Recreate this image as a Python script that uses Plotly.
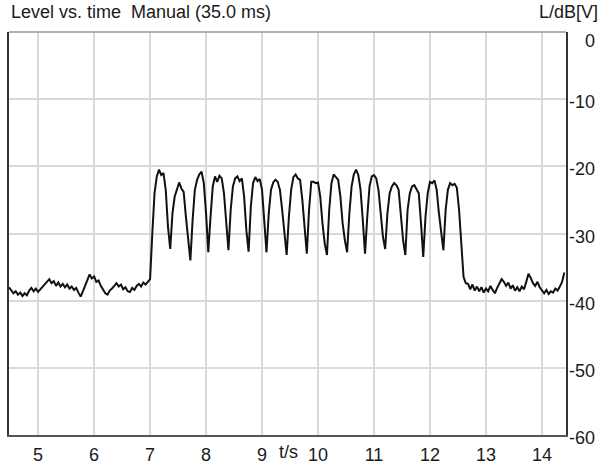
import plotly.graph_objects as go

# ---- data (level in dB[V], sampled every 0.04 s) ----
dt = 0.04
pre_start = 4.48
pre_level = [
    -38.0, -38.4, -38.9, -38.6, -39.1, -38.8, -39.3, -38.9, -39.2, -38.5,
    -38.1, -38.6, -38.2, -38.7, -38.3, -38.0, -37.6, -37.2, -36.8, -37.4,
    -37.1, -37.8, -37.3, -37.9, -37.5, -38.0, -37.6, -38.2, -37.9, -38.4,
    -38.1, -38.8, -39.4, -38.6, -37.8, -36.9, -36.1, -36.7, -36.4, -37.2,
    -37.0, -37.8, -38.4, -38.9, -39.1, -38.5, -38.2, -37.8, -37.4, -37.9,
    -37.6, -38.3, -38.0, -38.6, -38.7, -38.1, -38.4, -37.8, -37.5, -37.9,
    -37.3, -37.6, -37.1, -36.8,
]
burst_start = 7.04
burst_level = [
    -30.0, -24.0, -21.5, -20.5, -21.3, -21.0, -23.5, -29.0, -32.3, -27.0,
    -24.5, -23.5, -22.4, -23.3, -23.8, -27.5, -31.0, -34.0, -28.0, -23.5,
    -22.0, -21.2, -20.8, -22.5, -27.0, -32.8, -27.5, -23.0, -21.5, -22.3,
    -21.4, -21.8, -24.0, -28.5, -32.5, -26.5, -23.0, -21.8, -21.5, -22.2,
    -21.8, -24.5, -29.5, -32.7, -26.0, -22.5, -21.6, -22.2, -21.9, -23.5,
    -28.5, -32.8, -27.0, -23.5, -22.4, -22.0, -22.3, -23.5, -26.5, -30.0,
    -33.2, -27.5, -23.5, -21.6, -21.2, -21.8, -22.0, -25.0, -29.5, -33.0,
    -26.5, -22.3, -22.3, -22.5, -22.4, -24.5, -28.5, -31.5, -33.2, -26.5,
    -22.5, -21.2, -21.6, -22.0, -24.5, -28.5, -31.0, -32.8, -27.0, -23.0,
    -21.2, -20.5, -21.3, -23.5, -28.0, -33.0, -27.5, -23.0, -21.5, -21.3,
    -21.8, -23.5, -27.0, -30.5, -32.3, -27.0, -24.0, -23.0, -22.5, -22.8,
    -23.5, -27.0, -31.0, -33.2, -26.5, -24.0, -23.0, -22.8, -23.3, -24.0,
    -28.5, -33.5, -27.5, -24.0, -22.3, -22.5, -22.1, -23.5, -27.0, -30.0,
    -32.5, -26.5, -23.5, -22.5, -22.8, -22.6, -23.2, -26.5, -32.0, -36.5,
    -37.4,
]
post_start = 12.68
post_level = [
    -37.5, -38.3, -37.6, -38.5, -37.9, -38.6, -38.0, -38.8, -38.2, -38.6,
    -37.8, -38.4, -38.9, -38.1, -37.4, -36.8, -37.2, -37.8, -37.3, -38.2,
    -37.7, -38.5, -38.0, -38.6, -37.9, -38.3, -37.2, -36.0, -36.6, -37.4,
    -37.8, -37.2, -38.0, -38.5, -38.9, -38.4, -39.0, -38.6, -38.8, -38.2,
    -38.5, -37.9, -37.2, -35.8,
]

x_ticks = [5, 6, 7, 8, 9, 10, 11, 12, 13, 14]
y_ticks = [0, -10, -20, -30, -40, -50, -60]
x_range = [4.48, 14.43]
y_range = [-60, 0]

segments = [(pre_start, pre_level), (burst_start, burst_level), (post_start, post_level)]
t_all, lvl_all = [], []
for start, vals in segments:
    for i, v in enumerate(vals):
        t_all.append(round(start + i * dt, 4))
        lvl_all.append(v)

FONT = "Liberation Sans, Arial, sans-serif"
TXT = "#1a1a1a"
FS = 18

fig = go.Figure()
fig.add_trace(go.Scatter(x=t_all, y=lvl_all, mode="lines",
                         line=dict(color="#111111", width=2),
                         hoverinfo="skip", showlegend=False))

W, H = 603, 472
ml, mr, mt, mb = 7, 37, 32, 28
pw, ph = W - ml - mr, H - mt - mb

fig.update_layout(
    width=W, height=H,
    margin=dict(l=ml, r=mr, t=mt, b=mb, pad=0),
    paper_bgcolor="white", plot_bgcolor="white",
    font=dict(family=FONT, size=FS, color=TXT),
    xaxis=dict(range=x_range, tickvals=x_ticks, ticktext=[str(v) for v in x_ticks],
               showgrid=True, gridcolor="#d9d9d9", gridwidth=1.5, zeroline=False,
               showline=True, linecolor="#555555", linewidth=1.5,
               ticks="", ticklabelstandoff=3,
               tickfont=dict(size=FS, color=TXT, family=FONT)),
    yaxis=dict(range=y_range, tickvals=y_ticks, showticklabels=False,
               showgrid=True, gridcolor="#d9d9d9", gridwidth=1.5, zeroline=False,
               side="right", showline=True, linecolor="#333333", linewidth=1.5,
               mirror=True, ticks=""),
)

# top border (lighter)
fig.add_shape(type="line", xref="paper", yref="paper", x0=0, x1=1, y0=1, y1=1,
              line=dict(color="#9a9a9a", width=1.5))

# y tick labels (right aligned)
for v in y_ticks:
    shift = -9 if v == 0 else -3
    fig.add_annotation(x=(597 - ml) / pw, xref="paper", y=v, yref="y",
                       text=str(v), showarrow=False, xanchor="right", yanchor="middle",
                       yshift=shift, font=dict(size=FS, color=TXT, family=FONT))

# axis unit labels and title
fig.add_annotation(x=9.48, xref="x", y=-(457 - mt - ph) / ph, yref="paper",
                   text="t/s", showarrow=False, xanchor="center", yanchor="middle",
                   yshift=-4, font=dict(size=FS, color=TXT, family=FONT))
fig.add_annotation(x=(600 - ml) / pw, xref="paper", y=1 + (mt - 12) / ph, yref="paper",
                   text="L/dB[V]", showarrow=False, xanchor="right", yanchor="middle",
                   font=dict(size=FS, color=TXT, family=FONT))
fig.add_annotation(x=0, xref="paper", y=1 + (mt - 12) / ph, yref="paper",
                   text="Level vs. time  Manual (35.0 ms)", showarrow=False,
                   xanchor="left", yanchor="middle",
                   font=dict(size=FS, color=TXT, family=FONT))

fig.write_html("out.html")
